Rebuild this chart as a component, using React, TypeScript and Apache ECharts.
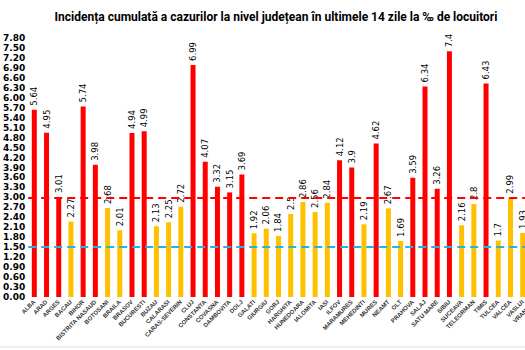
import React, { useEffect, useRef } from "react";
import * as echarts from "echarts";

const counties = [
  "ALBA", "ARAD", "ARGES", "BACAU", "BIHOR", "BISTRITA NASAUD", "BOTOSANI", "BRAILA",
  "BRASOV", "BUCURESTI", "BUZAU", "CALARASI", "CARAS-SEVERIN", "CLUJ", "CONSTANTA",
  "COVASNA", "DAMBOVITA", "DOLJ", "GALATI", "GIURGIU", "GORJ", "HARGHITA", "HUNEDOARA",
  "IALOMITA", "IASI", "ILFOV", "MARAMURES", "MEHEDINTI", "MURES", "NEAMT", "OLT",
  "PRAHOVA", "SALAJ", "SATU MARE", "SIBIU", "SUCEAVA", "TELEORMAN", "TIMIS", "TULCEA",
  "VALCEA", "VASLUI", "VRANCEA",
];

const incidence = [
  5.64, 4.95, 3.01, 2.27, 5.74, 3.98, 2.68, 2.01,
  4.94, 4.99, 2.13, 2.25, 2.72, 6.99, 4.07,
  3.32, 3.15, 3.69, 1.92, 2.06, 1.84, 2.5, 2.86,
  2.56, 2.84, 4.12, 3.9, 2.19, 4.62, 2.67, 1.69,
  3.59, 6.34, 3.26, 7.4, 2.16, 2.8, 6.43, 1.7,
  2.99, 1.93, 2.2,
];

const redThreshold = 3.0;
const blueThreshold = 1.5;
const yMax = 7.8;
const yInterval = 0.3;

export default function App() {
  const ref = useRef<HTMLDivElement>(null);
  useEffect(() => {
    if (!ref.current) return;
    const chart = echarts.init(ref.current, null, { renderer: "svg" });
    chart.setOption({
      animation: false,
      backgroundColor: "#ffffff",
      title: {
        text: "Incidența cumulată a cazurilor la nivel județean în ultimele 14 zile la ‰ de locuitori",
        left: 271,
        textAlign: "center",
        top: 6,
        textStyle: {
          fontFamily: "'Liberation Sans Narrow', 'Roboto', sans-serif",
          fontWeight: "bold",
          fontSize: 12,
          color: "#000",
        },
      },
      grid: { left: 27, right: 2, top: 38, bottom: 53, containLabel: false },
      xAxis: {
        type: "category",
        data: counties,
        axisLine: { show: false },
        axisTick: { show: false },
        axisLabel: {
          interval: 0,
          rotate: 45,
          fontSize: 6,
          fontWeight: "bold",
          fontFamily: "'Liberation Sans', sans-serif",
          color: "#333",
          margin: 4,
        },
      },
      yAxis: {
        type: "value",
        min: 0,
        max: yMax,
        interval: yInterval,
        splitLine: { show: false },
        axisLine: { show: false },
        axisTick: { show: false },
        axisLabel: {
          fontSize: 9,
          fontWeight: "bold",
          fontFamily: "'DejaVu Sans', sans-serif",
          color: "#000",
          margin: 3,
          formatter: (v: number) => v.toFixed(2),
        },
      },
      series: [
        {
          type: "bar",
          data: incidence,
          barWidth: 5,
          itemStyle: {
            color: (p: any) => (p.value > redThreshold ? "#ff0000" : p.value >= blueThreshold ? "#ffc000" : "#00b050"),
          },
          label: {
            show: true,
            position: "top",
            rotate: 90,
            align: "left",
            verticalAlign: "middle",
            distance: 4,
            fontSize: 8.5,
            fontFamily: "'DejaVu Sans', sans-serif",
            color: "#000",
            formatter: (p: any) => String(p.value),
          },
          markLine: {
            silent: true,
            symbol: "none",
            label: { show: false },
            data: [
              { yAxis: redThreshold, lineStyle: { color: "#ff0000", type: [8, 5], width: 2 } },
              { yAxis: blueThreshold, lineStyle: { color: "#1fb4e8", type: [8, 5], width: 2 } },
            ],
          },
        },
      ],
      graphic: [
        {
          type: "line",
          shape: { x1: 0, y1: 347, x2: 545, y2: 347 },
          style: { stroke: "#e0e0e0", lineWidth: 1 },
        },
      ],
    });
    return () => chart.dispose();
  }, []);
  return (
    <div style={{ position: "fixed", left: 0, top: 0, width: 525, height: 350, overflow: "hidden", background: "#fff" }}>
      <div ref={ref} style={{ width: 543, height: 350 }} />
    </div>
  );
}
